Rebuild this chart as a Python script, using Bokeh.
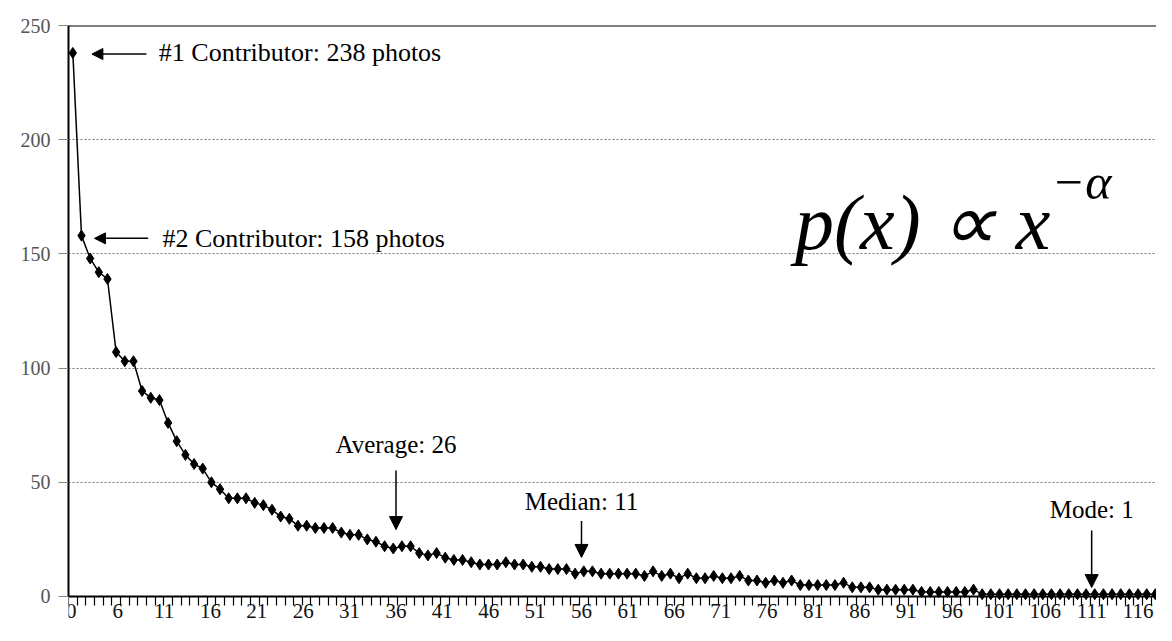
from bokeh.plotting import figure
from bokeh.models import (Range1d, LinearAxis, FixedTicker, Label, Arrow,
                          NormalHead, Span, ColumnDataSource)
from bokeh.embed import file_html
from bokeh.resources import INLINE

# ---- data: photos per contributor, ranked ----
photos = [238, 158, 148, 142, 139, 107, 103, 103, 90, 87,
          86, 76, 68, 62, 58, 56, 50, 47, 43, 43,
          43, 41, 40, 38, 35, 34, 31, 31, 30, 30,
          30, 28, 27, 27, 25, 24, 22, 21, 22, 22,
          19, 18, 19, 17, 16, 16, 15, 14, 14, 14,
          15, 14, 14, 13, 13, 12, 12, 12, 10, 11,
          11, 10, 10, 10, 10, 10, 9, 11, 9, 10,
          8, 10, 8, 8, 9, 8, 8, 9, 7, 7,
          6, 7, 6, 7, 5, 5, 5, 5, 5, 6,
          4, 4, 4, 3, 3, 3, 3, 3, 2, 2,
          2, 2, 2, 2, 3, 1, 1, 1, 1, 1,
          1, 1, 1, 1, 1, 1, 1, 1, 1, 1,
          1, 1, 1, 1, 1, 1, 1]
rank = list(range(1, len(photos) + 1))

x_tick_values = [1, 6, 11, 16, 21, 26, 31, 36, 41, 46, 51, 56, 61, 66, 71,
                 76, 81, 86, 91, 96, 101, 106, 111, 116]
x_tick_labels = ["0"] + [str(v) for v in x_tick_values[1:]]
y_tick_values = [0, 50, 100, 150, 200, 250]
y_grid_values = [50, 100, 150, 200]

top1_text = "#1 Contributor: 238 photos"
top2_text = "#2 Contributor: 158 photos"
stats = [("Average: 26", 36), ("Median: 11", 56), ("Mode: 1", 111)]

SERIF = "Liberation Serif"

p = figure(width=1156, height=625, output_backend="svg", toolbar_location=None,
           x_range=Range1d(0.5, 126.13), y_range=Range1d(-12.7, 250),
           x_axis_location=None, y_axis_location=None,
           min_border_left=68, min_border_right=0, min_border_top=25,
           min_border_bottom=0)
p.extra_x_ranges = {"lab": Range1d(0.694, 117.99)}
p.outline_line_color = None
p.background_fill_color = "white"
p.border_fill_color = "white"

# y axis
yax = LinearAxis(ticker=FixedTicker(ticks=y_tick_values), bounds=(0, 250))
yax.axis_line_color = "black"
yax.axis_line_width = 2
yax.major_tick_out = 10
yax.major_tick_in = 0
yax.major_tick_line_color = "#888888"
yax.minor_tick_line_color = None
yax.major_label_text_font = SERIF
yax.major_label_text_font_size = "20px"
yax.major_label_text_color = "#555555"
yax.major_label_standoff = 8
p.add_layout(yax, "left")

# x axis line with tick marks between points
xt = LinearAxis(ticker=FixedTicker(ticks=[], minor_ticks=[r - 0.5 for r in rank] + [rank[-1] + 0.5]),
                fixed_location=0)
xt.axis_line_color = "black"
xt.axis_line_width = 2
xt.minor_tick_out = 9
xt.minor_tick_in = 0
xt.minor_tick_line_color = "black"
xt.minor_tick_line_width = 1.2
xt.major_tick_line_color = None
p.add_layout(xt, "below")

# x labels
xl = LinearAxis(x_range_name="lab", ticker=FixedTicker(ticks=x_tick_values),
                fixed_location=0)
xl.major_label_overrides = {v: s for v, s in zip(x_tick_values, x_tick_labels)}
xl.axis_line_color = None
xl.major_tick_line_color = None
xl.minor_tick_line_color = None
xl.major_label_text_font = SERIF
xl.major_label_text_font_size = "21px"
xl.major_label_text_color = "#111111"
xl.major_label_standoff = 2
p.add_layout(xl, "below")

p.xgrid.visible = False
p.ygrid.ticker = FixedTicker(ticks=y_grid_values)
p.ygrid.grid_line_color = "#777777"
p.ygrid.grid_line_dash = "2 2"
p.ygrid.grid_line_width = 1

p.add_layout(Span(location=250, dimension="width", line_color="black", line_width=2))

src = ColumnDataSource(dict(rank=rank, photos=photos))
p.line("rank", "photos", source=src, line_color="black", line_width=1.5)
p.scatter("rank", "photos", source=src, marker="diamond", size=11,
          fill_color="black", line_color="black")

# annotations for #1 and #2
def head():
    return NormalHead(size=11, fill_color="black", line_color="black")

p.add_layout(Arrow(end=head(), x_start=rank[0] + 8.5, y_start=photos[0] - 0.5,
                   x_end=rank[0] + 2.2, y_end=photos[0] - 0.5,
                   line_color="black", line_width=1.5))
p.add_layout(Label(x=rank[0], y=photos[0], x_offset=86, text=top1_text,
                   text_baseline="middle", text_font=SERIF, text_font_size="26px",
                   text_color="black"))
p.add_layout(Arrow(end=head(), x_start=rank[1] + 7.7, y_start=photos[1] - 1.2,
                   x_end=rank[1] + 1.5, y_end=photos[1] - 1.2,
                   line_color="black", line_width=1.5))
p.add_layout(Label(x=rank[1], y=photos[1] - 1.2, x_offset=81, text=top2_text,
                   text_baseline="middle", text_font=SERIF, text_font_size="26px",
                   text_color="black"))

# statistic callouts
stat_geom = {"Average: 26": (66.5, 55.2, 29.3),
             "Median: 11": (41.6, 33.0, 17.1),
             "Mode: 1": (38.1, 28.9, 3.9)}
for txt, xpos in stats:
    ty, a0, a1 = stat_geom[txt]
    p.add_layout(Label(x=xpos, y=ty, x_range_name="lab", text=txt,
                       text_align="center", text_baseline="middle",
                       text_font=SERIF, text_font_size="25px", text_color="black"))
    p.add_layout(Arrow(end=NormalHead(size=13, fill_color="black", line_color="black"),
                       x_start=xpos, y_start=a0, x_end=xpos, y_end=a1,
                       x_range_name="lab", line_color="black", line_width=1.5))

# power-law formula
p.add_layout(Label(x=84.4, y=163.7, text="p(x) ∝ x", text_font=SERIF,
                   text_font_style="italic", text_font_size="78px",
                   text_baseline="alphabetic", text_color="black"))
p.add_layout(Label(x=114.0, y=181.5, text="−α", text_font=SERIF,
                   text_font_style="italic", text_font_size="50px",
                   text_baseline="alphabetic", text_color="black"))

open("out.html", "w").write(file_html(p, INLINE))
